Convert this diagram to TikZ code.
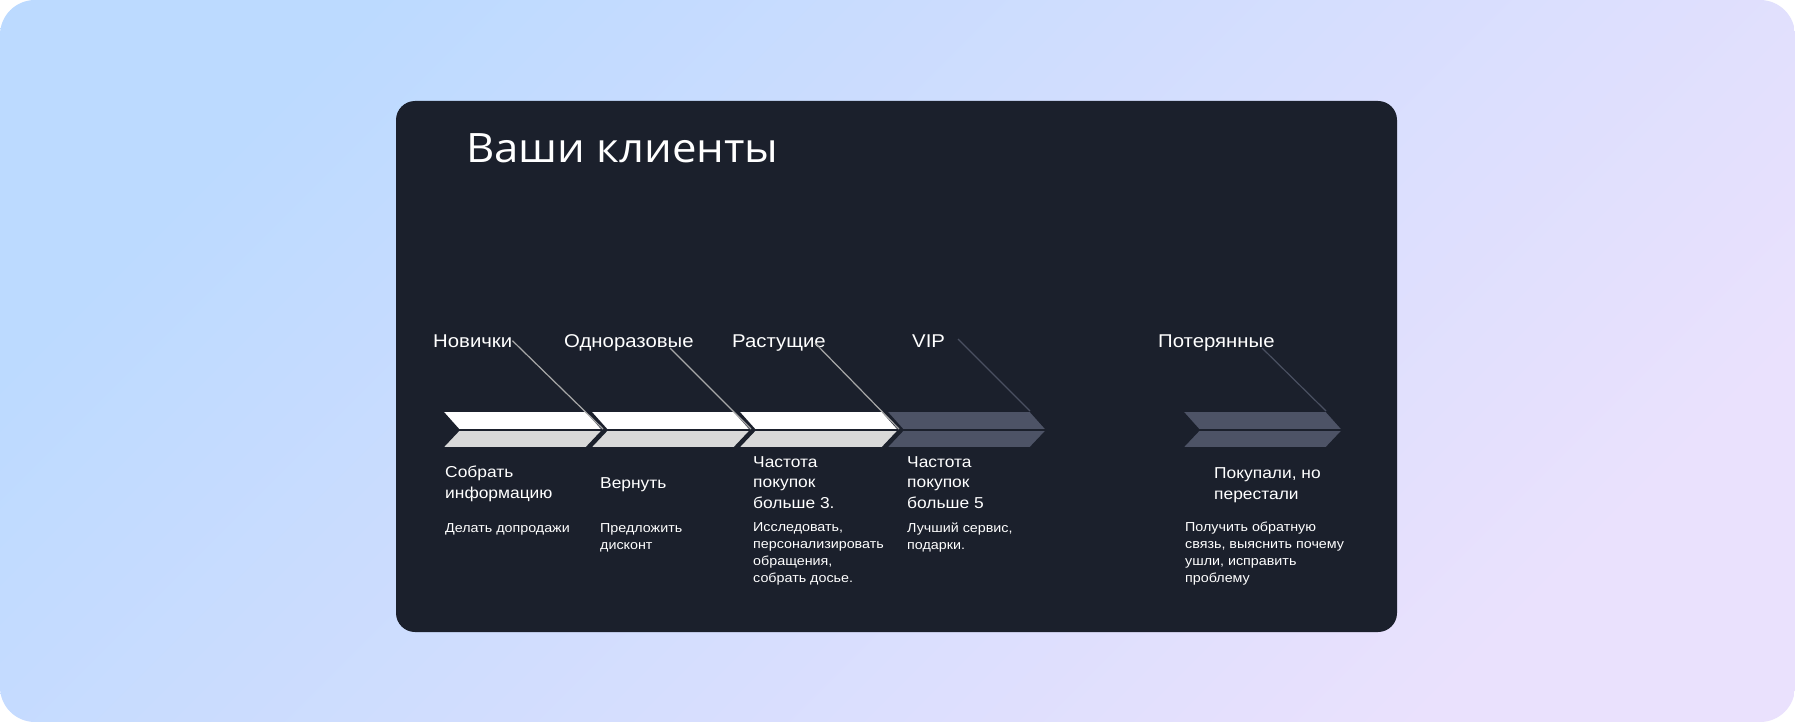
\documentclass[tikz,border=0pt]{standalone}
\usepackage{fontspec}
\setmainfont[FakeStretch=1.1]{Liberation Sans}
\newfontfamily\titlefont[FakeStretch=1.08]{Open Sans}
\definecolor{bgblue}{HTML}{BCDAFF}
\definecolor{bglilac}{HTML}{EAE1FD}
\definecolor{panel}{HTML}{1B202C}
\definecolor{bandgray}{HTML}{D9D9D9}
\definecolor{bandslate}{HTML}{4D5366}
\definecolor{linelight}{HTML}{A8A8A8}
\definecolor{linedark}{HTML}{4A5061}

\begin{document}
\begin{tikzpicture}[x=1pt, y=-1pt,
		lbl/.style={text=white, inner sep=0, anchor=base west, align=left, font=\fontsize{18.5}{20.5}\selectfont},
		goal/.style={lbl, font=\fontsize{15.8}{20.5}\selectfont},
		note/.style={text=white, inner sep=0, anchor=base west, align=left, font=\fontsize{13}{16.7}\selectfont},
		band/.style={draw=panel, line width=1.6pt, line join=miter}]
		\fill[white] (0,0) rectangle (1795,722);
		\shade[rounded corners=35pt, top color=bgblue, bottom color=bglilac, shading angle=45] (0,0) rectangle (1795,722);
		\fill[panel, rounded corners=19pt] (396,101) rectangle (1397,632);
		\node[text=white, inner sep=0, anchor=base west, font=\titlefont\fontsize{40.5}{46}\selectfont] (title) at (466,163) {Ваши клиенты};

		% chevrons
		\draw[band, fill=white] (442,411) -- ++(144,0) -- ++(17,19) -- ++(-144,0) -- cycle;
		\draw[band, fill=bandgray] (459,430) -- ++(144,0) -- ++(-17,18) -- ++(-144,0) -- cycle;
		\draw[band, fill=white] (590,411) -- ++(144,0) -- ++(17,19) -- ++(-144,0) -- cycle;
		\draw[band, fill=bandgray] (607,430) -- ++(144,0) -- ++(-17,18) -- ++(-144,0) -- cycle;
		\draw[band, fill=white] (738,411) -- ++(144,0) -- ++(17,19) -- ++(-144,0) -- cycle;
		\draw[band, fill=bandgray] (755,430) -- ++(144,0) -- ++(-17,18) -- ++(-144,0) -- cycle;
		\draw[band, fill=bandslate] (886,411) -- ++(144,0) -- ++(17,19) -- ++(-144,0) -- cycle;
		\draw[band, fill=bandslate] (903,430) -- ++(144,0) -- ++(-17,18) -- ++(-144,0) -- cycle;
		\draw[band, fill=bandslate] (1182,411) -- ++(144,0) -- ++(17,19) -- ++(-144,0) -- cycle;
		\draw[band, fill=bandslate] (1199,430) -- ++(144,0) -- ++(-17,18) -- ++(-144,0) -- cycle;
		\coordinate (tipA) at (603,429);
		\coordinate (tipB) at (751,429);
		\coordinate (tipC) at (899,429);
		\coordinate (cornerD) at (1030,411);
		\coordinate (cornerE) at (1326,411);

		% segment names
		\node[lbl] (lblA) at (433,347) {Новички};
		\node[lbl] (lblB) at (564,347) {Одноразовые};
		\node[lbl] (lblC) at (732,347) {Растущие};
		\node[lbl] (lblD) at (912,347) {VIP};
		\node[lbl] (lblE) at (1158,347) {Потерянные};
		\coordinate (fromB) at (670,348);
		\coordinate (fromC) at (815,343);
		\coordinate (fromD) at (958,339);
		\coordinate (fromE) at (1262,348);
		\draw[linelight, line width=1.2pt] (lblA.east) -- (tipA);
		\draw[linelight, line width=1.2pt] (fromB) -- (tipB);
		\draw[linelight, line width=1.2pt] (fromC) -- (tipC);
		\draw[linedark, line width=1.2pt] (fromD) -- (cornerD);
		\draw[linedark, line width=1.2pt] (fromE) -- (cornerE);

		% goals and actions (base = last line)
		\node[goal] (goalA) at (445,498) {Собрать\\информацию};
		\node[goal] (goalB) at (600,488) {Вернуть};
		\node[goal] (goalC) at (753,508) {Частота\\покупок\\больше 3.};
		\node[goal] (goalD) at (907,508) {Частота\\покупок\\больше 5};
		\node[goal] (goalE) at (1214,499) {Покупали, но\\перестали};
		\node[note] (noteA) at (445,532) {Делать допродажи};
		\node[note] (noteB) at (600,549) {Предложить\\дисконт};
		\node[note] (noteC) at (753,582) {Исследовать,\\персонализировать\\обращения,\\собрать досье.};
		\node[note] (noteD) at (907,549) {Лучший сервис,\\подарки.};
		\node[note] (noteE) at (1185,582) {Получить обратную\\связь, выяснить почему\\ушли, исправить\\проблему};
\end{tikzpicture}
\end{document}
